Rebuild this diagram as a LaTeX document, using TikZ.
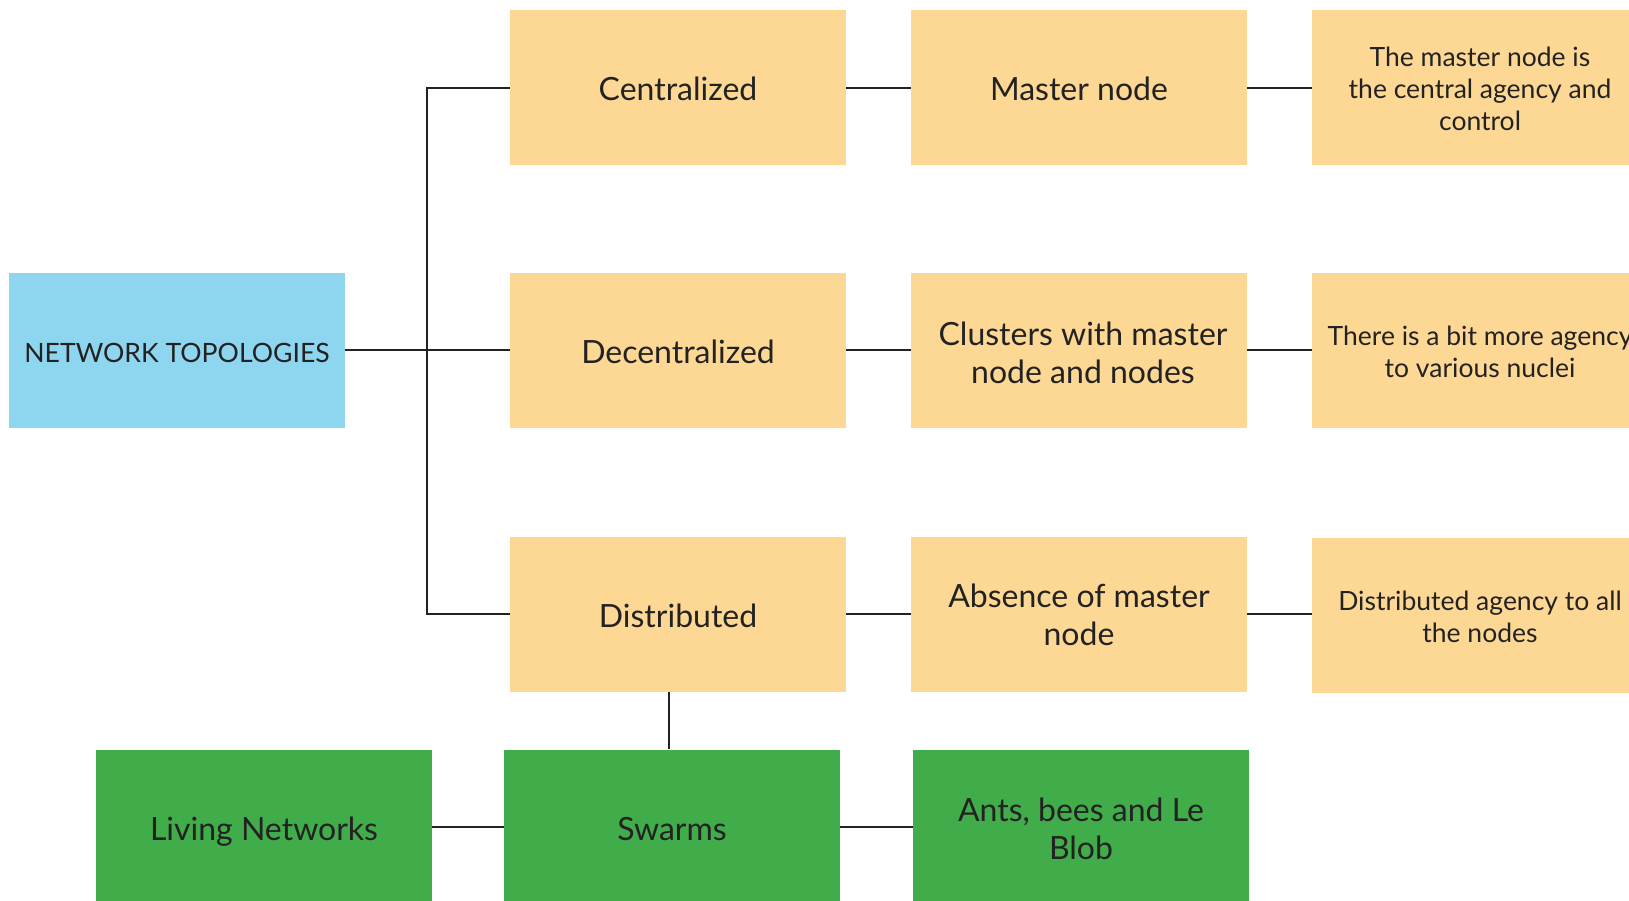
\documentclass[tikz,border=0pt]{standalone}
\usepackage{fontspec}
\setmainfont{Lato}
\definecolor{skyfill}{HTML}{8ED5EF}
\definecolor{sandfill}{HTML}{FDD794}
\definecolor{leaffill}{HTML}{41AD4A}
\definecolor{ink}{HTML}{222222}
% raise the first line of a multi-line label to push the block down a little
\newcommand\firstline[1]{\rule{0pt}{#1}}
\tikzset{
  box/.style={draw=none, minimum width=336pt, minimum height=155pt, inner sep=0pt,
              align=center, text=ink},
  topic/.style={box, fill=sandfill, font=\fontsize{32}{38}\selectfont},
  oneline/.style={text height=26pt, text depth=0pt},
  note/.style={box, fill=sandfill, font=\fontsize{26.5}{32}\selectfont},
  root/.style={box, fill=skyfill, font=\fontsize{26.6}{30}\selectfont,
               text height=24pt, text depth=0pt},
  living/.style={box, fill=leaffill, font=\fontsize{32}{38}\selectfont},
  link/.style={draw=ink, line width=2.5pt}
}
\begin{document}
\begin{tikzpicture}[x=1pt,y=-1pt]
  \useasboundingbox (0,0) rectangle (1629,901);
  \clip (0,0) rectangle (1629,901);

  % root
  \node[root] (net) at (177,350) {NETWORK TOPOLOGIES};

  % topologies
  \node[topic,oneline] (cen) at (678,88)  {Centralized};
  \node[topic,oneline] (dec) at (678,350) {Decentralized};
  \node[topic,oneline] (dis) at (678,614) {Distributed};

  % structure of each topology
  \node[topic,oneline] (mas) at (1079,88)  {Master node};
  \node[topic] (clu) at (1079,350) {\firstline{29pt}\hspace*{8pt}Clusters with master\\\hspace*{8pt}node and nodes};
  \node[topic] (abs) at (1079,614) {\firstline{26pt}Absence of master\\node};

  % agency notes
  \node[note] (agc) at (1480,88)  {\firstline{21pt}The master node is\\the central agency and\\control};
  \node[note] (agd) at (1480,350) {\firstline{23pt}There is a bit more agency\\to various nuclei};
  \node[note] (agi) at (1480,615) {\firstline{23pt}Distributed agency to all\\the nodes};

  % living networks
  \node[living,oneline] (liv) at (264,827)  {Living Networks};
  \node[living,oneline] (swa) at (672,827)  {Swarms};
  \node[living] (ant) at (1081,827) {\firstline{28pt}Ants, bees and Le\\Blob};

  % connectors
  \coordinate (trunk) at (427,350);
  \draw[link] (cen.west) -| (trunk) |- (dis.west);
  \draw[link] (net.east) -- (dec.west);
  \draw[link] (cen.east) -- (mas.west);
  \draw[link] (dec.east) -- (clu.west);
  \draw[link] (dis.east) -- (abs.west);
  \draw[link] (mas.east) -- (agc.west);
  \draw[link] (clu.east) -- (agd.west);
  \draw[link] (abs.east) -- (abs.east -| agi.west);
  \draw[link] ([xshift=-3pt]swa.north) -- ([xshift=-3pt]swa.north |- dis.south);
  \draw[link] (liv.east) -- (swa.west);
  \draw[link] (swa.east) -- (ant.west);
\end{tikzpicture}
\end{document}
